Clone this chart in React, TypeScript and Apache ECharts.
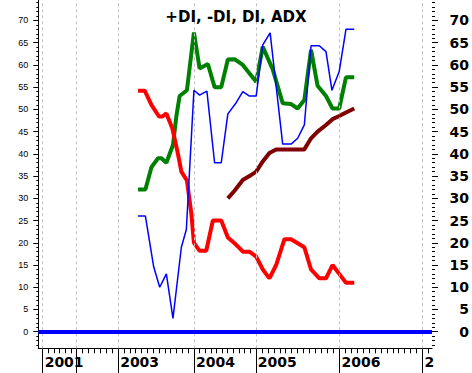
import React, { useEffect, useRef } from "react";
import * as echarts from "echarts";

const TITLE = "+DI, -DI, DI, ADX";

// x positions are period positions on the chart's period axis (0..68)
const yearTickX = [0.75, 6.61, 13.79, 26.88, 37.57, 52.04, 66.34];
const yearLabels = ["2001", "", "2003", "2004", "2005", "2006", "2"];
const minorTicksPerYear = [6, 7, 13, 11, 14, 14];
const trailingMinorTicks = [67.32];

const yLabelValues = [0, 5, 10, 15, 20, 25, 30, 35, 40, 45, 50, 55, 60, 65, 70];

const plusDiX = [17.23, 18.5, 19.93, 20.97, 22.12, 23.26, 24.71, 25.57, 26.88, 27.86, 29.12, 30.45, 31.6, 32.74, 34.18, 35.32, 36.47, 37.63, 38.77, 40.04, 42.21, 43.66, 44.8, 45.95, 47.11, 48.54, 49.69, 50.72, 51.97, 53.14, 54.57];
const plusDiY = [26, 26, 14.6, 10, 13, 3, 19, 23, 54.3, 53.2, 54.1, 38, 38, 49, 51.5, 54, 53, 53, 64.5, 67.2, 42.2, 42.2, 43.5, 46.5, 64.3, 64.3, 63, 54.3, 58.5, 68, 68];

const minusDiX = [17.23, 18.38, 19.54, 20.85, 21.43, 22.12, 23.16, 24.12, 24.71, 25.67, 26.43, 26.88, 27.86, 29.01, 30.15, 31.6, 32.74, 33.89, 34.75, 35.32, 36.47, 37.63, 38.77, 39.92, 41.08, 42.51, 43.66, 45.95, 47.11, 48.54, 49.69, 50.82, 51.97, 53.14, 54.57];
const minusDiY = [54.2, 54.2, 51, 48.4, 48.4, 49.1, 45.7, 40, 36, 34, 26.6, 20, 18.2, 18.2, 25, 25, 21.2, 19.9, 18.8, 18, 18, 16.9, 14, 12, 15, 20.8, 20.8, 19, 14, 12, 12, 15, 13, 11, 11];

const diX = [17.23, 18.5, 19.54, 20.68, 21.26, 22.12, 23.26, 23.85, 24.41, 25.67, 26.88, 27.86, 29.29, 30.45, 31.6, 32.74, 33.89, 35.32, 37.63, 38.77, 40.49, 42.21, 43.66, 44.8, 45.95, 47.11, 48.24, 49.69, 50.82, 51.97, 53.14, 54.57];
const diY = [32, 32, 37, 39, 39, 38, 42, 48.5, 53, 54.3, 67.3, 59.2, 60.2, 55, 55, 61.2, 61.3, 60, 56.2, 64.1, 59, 51.4, 51.2, 50.2, 52.1, 63.4, 55.3, 53, 50.2, 50.2, 57.2, 57.2];

const adxX = [32.74, 33.89, 35.32, 36.47, 37.63, 38.77, 39.92, 41.08, 43.66, 45.95, 47.11, 48.24, 49.69, 50.82, 51.97, 53.14, 54.57];
const adxY = [30, 31.7, 34.1, 35, 36, 38.3, 40.2, 41, 41, 41, 43.5, 45, 46.5, 47.8, 48.5, 49.3, 50.2];

const pairs = (xs: number[], ys: number[]) => xs.map((x, i) => [x, ys[i]]);

export default function App() {
  const ref = useRef<HTMLDivElement>(null);
  useEffect(() => {
    if (!ref.current) return;
    const chart = echarts.init(ref.current, undefined, { renderer: "svg" });

    const minorX: number[] = [];
    for (let i = 0; i < minorTicksPerYear.length; i++) {
      const a = yearTickX[i];
      const b = yearTickX[i + 1];
      const n = minorTicksPerYear[i];
      for (let k = 1; k < n; k++) minorX.push(a + ((b - a) * k) / n);
    }
    trailingMinorTicks.forEach((v) => minorX.push(v));
    const labelX = yearTickX.filter((_, i) => yearLabels[i] !== "");
    const minorY: number[] = [];
    for (let v = -3; v <= 74; v++) if (v % 5 !== 0) minorY.push(v);

    const xMin = 0, xMax = 68;
    const yMin = -3.73, yMax = 74.6;
    const boldFont = "DejaVu Sans";

    const baseX = { type: "value", min: xMin, max: xMax, splitLine: { show: false } };
    const baseY = { type: "value", min: yMin, max: yMax, splitLine: { show: false } };

    chart.setOption({
      animation: false,
      backgroundColor: "#ffffff",
      title: {
        text: TITLE,
        left: "center",
        top: 4,
        textStyle: { fontFamily: boldFont, fontWeight: "bold", fontSize: 15, color: "#000" },
      },
      grid: { left: 38.3, right: 39, top: 0, bottom: 24.7, containLabel: false },
      xAxis: [
        {
          ...baseX,
          position: "bottom",
          axisLine: { show: true, onZero: false, lineStyle: { color: "#000", width: 1 } },
          axisTick: { show: true, customValues: yearTickX, length: 25, lineStyle: { color: "#000", width: 1 } },
          axisLabel: {
            show: true,
            customValues: labelX,
            align: "left",
            margin: 7,
            padding: [0, 0, 0, 2],
            fontFamily: boldFont,
            fontWeight: "bold",
            fontSize: 14,
            color: "#000",
            formatter: (v: number) => {
              const i = yearTickX.findIndex((m) => Math.abs(m - v) < 0.001);
              return i >= 0 ? yearLabels[i] : "";
            },
          },
        },
        {
          ...baseX,
          position: "bottom",
          axisLine: { show: false, onZero: false },
          axisTick: { show: true, customValues: minorX, length: 5, lineStyle: { color: "#000", width: 1 } },
          axisLabel: { show: false },
        },
      ],
      yAxis: [
        {
          ...baseY,
          position: "left",
          axisLine: { show: true, onZero: false, lineStyle: { color: "#000", width: 1 } },
          axisTick: { show: true, customValues: yLabelValues, length: 5, lineStyle: { color: "#000" } },
          axisLabel: {
            show: true,
            customValues: yLabelValues,
            margin: 10,
            fontFamily: "Liberation Sans Narrow, Liberation Sans, Arial",
            fontSize: 9,
            color: "#000",
          },
        },
        {
          ...baseY,
          position: "left",
          axisLine: { show: false, onZero: false },
          axisTick: { show: true, customValues: minorY, length: 2, lineStyle: { color: "#000" } },
          axisLabel: { show: false },
        },
        {
          ...baseY,
          position: "right",
          axisLine: { show: false, onZero: false },
          axisTick: { show: true, customValues: yLabelValues, length: 6, lineStyle: { color: "#000" } },
          axisLabel: {
            show: true,
            customValues: yLabelValues,
            align: "right",
            margin: 37,
            fontFamily: boldFont,
            fontWeight: "bold",
            fontSize: 14,
            color: "#000",
          },
        },
        {
          ...baseY,
          position: "right",
          axisLine: { show: false, onZero: false },
          axisTick: { show: true, customValues: minorY, length: 3, lineStyle: { color: "#000" } },
          axisLabel: { show: false },
        },
      ],
      series: [
        {
          name: "DI",
          type: "line",
          xAxisIndex: 0,
          yAxisIndex: 0,
          data: pairs(diX, diY),
          showSymbol: false,
          lineStyle: { color: "#008000", width: 4 },
          itemStyle: { color: "#008000" },
          markLine: {
            silent: true,
            symbol: "none",
            label: { show: false },
            data: [
              ...yearTickX.map((v) => ({
                xAxis: v,
                lineStyle: { color: "#c0c0c0", type: [3, 3], width: 1 },
              })),
              { yAxis: 0, lineStyle: { color: "#0000ff", type: "solid", width: 4 } },
            ],
          },
          z: 2,
        },
        {
          name: "-DI",
          type: "line",
          xAxisIndex: 0,
          yAxisIndex: 0,
          data: pairs(minusDiX, minusDiY),
          showSymbol: false,
          lineStyle: { color: "#ff0000", width: 4 },
          itemStyle: { color: "#ff0000" },
          z: 3,
        },
        {
          name: "ADX",
          type: "line",
          xAxisIndex: 0,
          yAxisIndex: 0,
          data: pairs(adxX, adxY),
          showSymbol: false,
          lineStyle: { color: "#800000", width: 4 },
          itemStyle: { color: "#800000" },
          z: 4,
        },
        {
          name: "+DI",
          type: "line",
          xAxisIndex: 0,
          yAxisIndex: 0,
          data: pairs(plusDiX, plusDiY),
          showSymbol: false,
          lineStyle: { color: "#0000ff", width: 1.5 },
          itemStyle: { color: "#0000ff" },
          z: 5,
        },
      ],
    });
    return () => chart.dispose();
  }, []);
  return (
    <div
      ref={ref}
      style={{ position: "fixed", left: 0, top: 0, width: 472, height: 373, background: "#fff" }}
    />
  );
}
